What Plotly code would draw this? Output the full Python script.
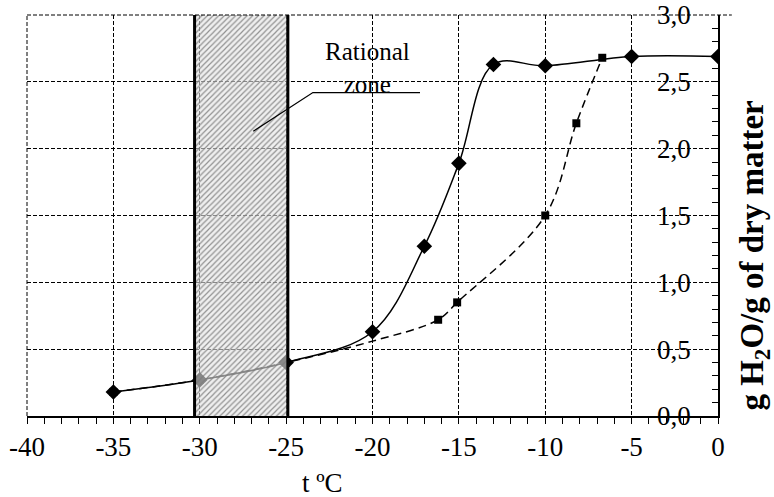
import plotly.graph_objects as go

# ---- data ----
x_solid = [-35, -30, -25, -20, -17, -15, -13, -10, -5, 0]
y_solid = [0.18, 0.27, 0.40, 0.63, 1.27, 1.89, 2.63, 2.62, 2.69, 2.69]

x_dash = [-35, -30, -25, -20, -16.2, -15.1, -10, -8.2, -6.7]
y_dash = [0.18, 0.27, 0.40, 0.56, 0.72, 0.85, 1.50, 2.19, 2.68]
dash_marker_sizes = [8, 8, 8, 0, 8, 8, 8, 8, 8]

zone_start = -30.3
zone_end = -24.9

x_tickvals = [-40, -35, -30, -25, -20, -15, -10, -5, 0]
x_ticktext = ["-40", "-35", "-30", "-25", "-20", "-15", "-10", "-5", "0"]
y_tickvals = [0.0, 0.5, 1.0, 1.5, 2.0, 2.5, 3.0]
y_ticktext = ["0,0", "0,5", "1,0", "1,5", "2,0", "2,5", "3,0"]

leader_x = [-26.9, -23.45, -17.25]
leader_y = [2.13, 2.42, 2.42]

FONT = "Liberation Serif"

fig = go.Figure()

fig.add_trace(go.Scatter(
    x=x_dash, y=y_dash, mode="lines+markers",
    line=dict(color="black", width=1.5, dash="8px,5px", shape="spline", smoothing=1),
    marker=dict(symbol="square", size=dash_marker_sizes, color="black", opacity=1,
                line=dict(color="black", width=0)),
    hoverinfo="skip", showlegend=False))

fig.add_trace(go.Scatter(
    x=x_solid, y=y_solid, mode="lines+markers",
    line=dict(color="black", width=1.5, shape="spline", smoothing=1),
    marker=dict(symbol="diamond", size=12, color="black", opacity=1),
    hoverinfo="skip", showlegend=False))

# hatched rational zone (drawn above the curves)
fig.add_trace(go.Scatter(
    x=[zone_start, zone_end, zone_end, zone_start, zone_start],
    y=[0, 0, 3, 3, 0], mode="none", fill="toself",
    fillcolor="rgba(0,0,0,0)",
    fillpattern=dict(shape="/", size=4, solidity=0.3,
                     fgcolor="#7a7a7a", fgopacity=0.8,
                     bgcolor="rgba(228,228,228,0.6)"),
    hoverinfo="skip", showlegend=False))

for xv in (zone_start, zone_end):
    fig.add_shape(type="line", xref="x", yref="y", x0=xv, x1=xv, y0=0, y1=3.01,
                  line=dict(color="black", width=3))

# dashed border on left and top (grid lines at the range edges)
fig.add_shape(type="line", xref="paper", yref="paper", x0=0, x1=0, y0=0, y1=1,
              line=dict(color="black", width=1, dash="4px,2px"))
fig.add_shape(type="line", xref="paper", yref="paper", x0=0, x1=1.02, y0=1, y1=1,
              line=dict(color="black", width=1, dash="4px,2px"))

path = "M " + " L ".join(f"{a},{b}" for a, b in zip(leader_x, leader_y))
fig.add_shape(type="path", xref="x", yref="y", path=path,
              line=dict(color="black", width=1.3))

fig.add_annotation(x=-20.3, y=2.6, xref="x", yref="y", text="Rational<br>zone",
                   showarrow=False, font=dict(family=FONT, size=25, color="black"),
                   xanchor="center", yanchor="middle")

fig.add_annotation(x=-22.9, y=-0.167, xref="x", yref="paper", text="t ºC",
                   showarrow=False, font=dict(family=FONT, size=27, color="black"),
                   xanchor="center", yanchor="middle")

fig.add_annotation(x=1.0535, y=0.40, xref="paper", yref="paper",
                   text="<b>g H<sub>2</sub>O/g of dry matter</b>", textangle=-90,
                   showarrow=False, font=dict(family=FONT, size=33, color="black"),
                   xanchor="center", yanchor="middle")

grid = dict(showgrid=True, gridcolor="black", gridwidth=1, griddash="4px,2px")

fig.update_xaxes(range=[-40, 0], tickmode="array", tickvals=x_tickvals, ticktext=x_ticktext,
                 ticks="outside", ticklen=6, tickcolor="black", tickwidth=1,
                 showline=True, linecolor="black", linewidth=1.5, zeroline=False,
                 automargin=False,
                 tickfont=dict(family=FONT, size=27, color="black"),
                 minor=dict(tickmode="linear", tick0=0, dtick=1, ticks="outside",
                            ticklen=6, tickcolor="black", showgrid=False),
                 **grid)

fig.update_yaxes(range=[0, 3], side="right", tickmode="array", tickvals=y_tickvals,
                 ticktext=y_ticktext, ticks="inside", ticklabelposition="inside",
                 ticklabeloverflow="allow", ticklabelstandoff=24,
                 ticklen=6, tickcolor="black", tickwidth=1,
                 showline=True, linecolor="black", linewidth=1.5, zeroline=False,
                 automargin=False,
                 tickfont=dict(family=FONT, size=27, color="black"),
                 minor=dict(tickmode="linear", tick0=0, dtick=0.1, ticks="inside",
                            ticklen=6, tickcolor="black", showgrid=False),
                 **grid)

fig.update_layout(width=774, height=497, autosize=False,
                  margin=dict(l=27, r=56, t=15, b=81, autoexpand=False),
                  plot_bgcolor="white", paper_bgcolor="white",
                  showlegend=False)

fig.write_html("out.html", config={"displayModeBar": False},
               post_script="document.body.style.margin='0';document.body.style.padding='0';")
